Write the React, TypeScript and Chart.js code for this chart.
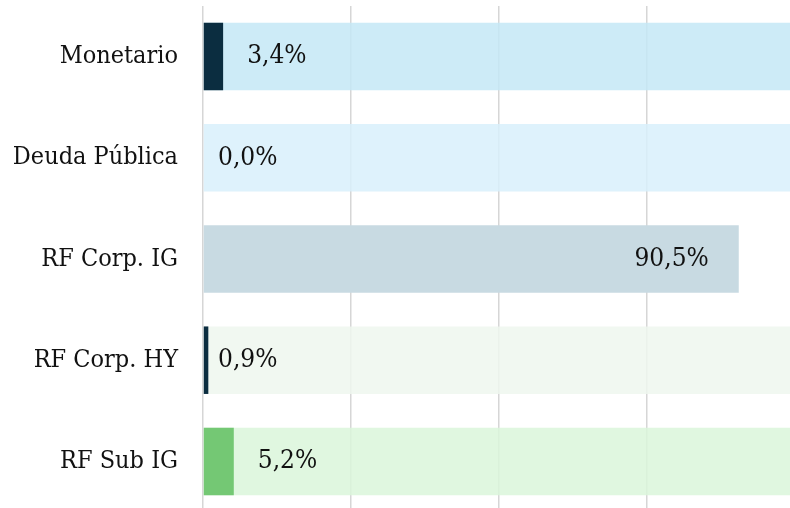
import React, { useEffect, useRef } from "react";
import { Chart, registerables } from "chart.js";

Chart.register(...registerables);

const categories = ["Monetario", "Deuda Pública", "RF Corp. IG", "RF Corp. HY", "RF Sub IG"];
const values = [3.4, 0.0, 90.5, 0.9, 5.2];
const backgroundValues = [100, 100, 0, 100, 100];
const xTicks = [0, 25, 50, 75, 100];

const fgColors = ["#0b2d40", "#0b2d40", "#c8dae2", "#0b2d40", "#74c874"];
const bgColors = [
  "rgba(196,231,246,0.85)",
  "rgba(216,240,252,0.85)",
  "rgba(255,255,255,0)",
  "rgba(238,247,238,0.85)",
  "rgba(218,246,218,0.85)",
];

const FONT = "'DejaVu Serif Condensed', 'DejaVu Serif', serif";

const labelPlugin = {
  id: "valueLabels",
  afterDatasetsDraw(chart: any) {
    const { ctx, chartArea } = chart;
    const meta = chart.getDatasetMeta(0);
    ctx.save();
    ctx.font = `26px ${FONT}`;
    ctx.fillStyle = "#111111";
    ctx.textBaseline = "middle";
    meta.data.forEach((bar: any, i: number) => {
      const v = values[i];
      const text = v.toFixed(1).replace(".", ",") + "%";
      const width = bar.x - chartArea.left;
      if (v > 50) {
        ctx.textAlign = "right";
        ctx.fillText(text, bar.x - 30, bar.y);
      } else {
        ctx.textAlign = "left";
        const x = width > 10 ? bar.x + 24 : chartArea.left + 15;
        ctx.fillText(text, x, bar.y);
      }
    });
    ctx.restore();
  },
};

export default function App() {
  const ref = useRef<HTMLCanvasElement | null>(null);
  useEffect(() => {
    document.body.style.overflow = "hidden";
    const chart = new Chart(ref.current as HTMLCanvasElement, {
      type: "bar",
      data: {
        labels: categories,
        datasets: [
          {
            data: values,
            backgroundColor: fgColors,
            grouped: false,
            categoryPercentage: 1,
            barPercentage: 0.667,
          } as any,
          {
            data: backgroundValues,
            backgroundColor: bgColors,
            grouped: false,
            categoryPercentage: 1,
            barPercentage: 0.667,
          } as any,
        ],
      },
      options: {
        indexAxis: "y",
        animation: false,
        responsive: false,
        layout: { padding: { left: 0, top: 6, right: 5, bottom: 8 } },
        plugins: { legend: { display: false }, tooltip: { enabled: false } },
        scales: {
          x: {
            min: xTicks[0],
            max: xTicks[xTicks.length - 1],
            afterBuildTicks: (s: any) => {
              s.ticks = xTicks.map((v) => ({ value: v }));
            },
            afterFit: (s: any) => {
              s.height = 0;
              s.paddingLeft = 0;
              s.paddingRight = 0;
            },
            ticks: { display: false },
            grid: { color: "#d6d6d6", lineWidth: 1.5, drawTicks: false },
            border: { display: false },
          },
          y: {
            afterFit: (s: any) => {
              s.width = 203;
              s.paddingTop = 0;
              s.paddingBottom = 0;
            },
            ticks: {
              color: "#111111",
              font: { family: FONT, size: 25 },
              padding: 25,
            },
            grid: { display: false, drawTicks: false },
            border: { display: false },
          },
        },
      },
      plugins: [labelPlugin],
    } as any);
    return () => chart.destroy();
  }, []);
  return (
    <div style={{ position: "fixed", left: 0, top: 0, width: 800, height: 520 }}>
      <canvas ref={ref} width={800} height={520} style={{ display: "block", width: 800, height: 520 }} />
    </div>
  );
}
